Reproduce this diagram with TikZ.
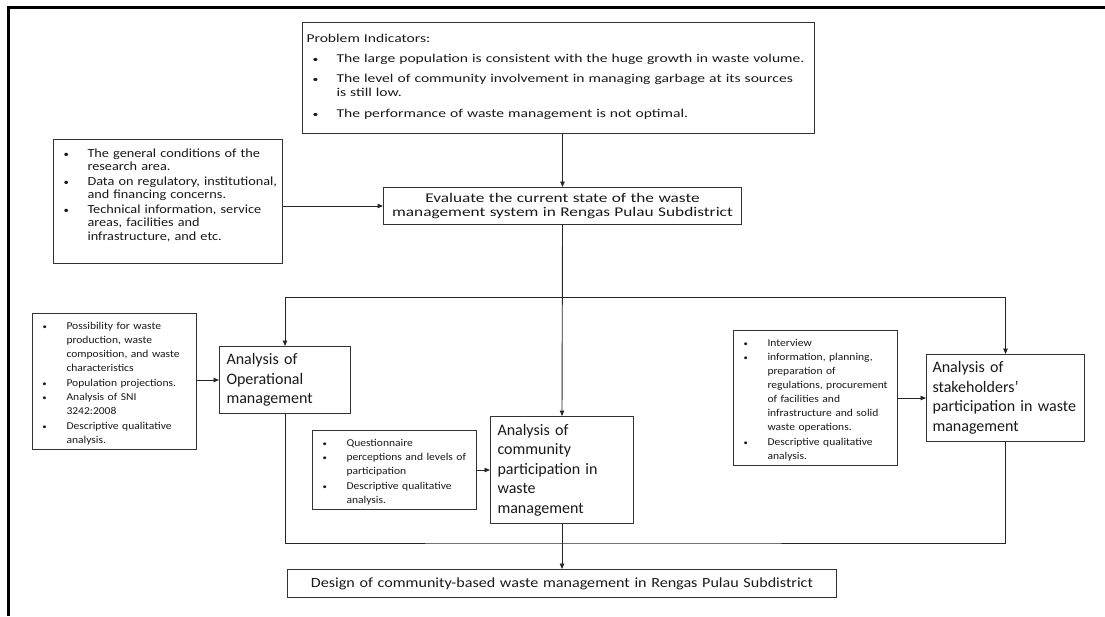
\documentclass[tikz,border=0pt]{standalone}
\usepackage{fontspec}
\setmainfont{Carlito}
\newfontfamily\widefont{Carlito}[FakeStretch=1.3]
\newfontfamily\midfont{Carlito}[FakeStretch=1.15]
\newfontfamily\smallfont{Carlito}[FakeStretch=1.1]
\usepackage{xcolor}
\usepackage{graphicx}
\usepackage{tikz}
\usetikzlibrary{arrows.meta, positioning, calc}

% punto elenco: pallino + righe non spezzabili
\newcommand{\bl}[1]{\par\noindent\makebox[30pt][l]{\hspace{6pt}\scalebox{0.75}{\textbullet}}\begin{tabular}[t]{@{}l@{}}#1\end{tabular}}

\tikzset{
    box/.style={draw=black!80, line width=1pt, text=black!90, anchor=north west,
        inner xsep=4pt, inner ysep=2pt, align=left},
    anbox/.style={box, inner xsep=7pt, font=\fontsize{16}{19.5}\selectfont},
    smallbox/.style={box, text width=156pt, font=\smallfont\fontsize{10.5}{14}\selectfont},
    conn/.style={draw=black!85, line width=0.9pt},
    arr/.style={conn, -{Triangle[length=5.5pt,width=4.5pt]}}
}

\begin{document}
\begin{tikzpicture}[x=1pt, y=-1pt]
    \useasboundingbox (0,0) rectangle (1105,616);

    % cornice
    \draw[line width=3pt] (8,616) -- (8,7) -- (1105,7);

    % Indicatori
    \node[box, text width=504pt, minimum height=111pt,
        font=\widefont\fontsize{12}{14}\selectfont\setlength{\parskip}{6pt}] (prob) at (302,22)
        {Problem Indicators:
         \bl{The large population is consistent with the huge growth in waste volume.}
         \bl{The level of community involvement in managing garbage at its sources\\is still low.}
         \bl{The performance of waste management is not optimal.}};

    % Valutazione
    \node[box, align=center, text width=350pt, minimum height=37pt,
        font=\widefont\fontsize{13.3}{14.3}\selectfont] (eval) at (383,187)
        {Evaluate the current state of the waste\\management system in Rengas Pulau Subdistrict};

    % Dati generali
    \node[box, text width=221pt, minimum height=124pt,
        font=\midfont\fontsize{12.4}{13.5}\selectfont] (info) at (53,139)
        {\bl{The general conditions of the\\research area.}
         \bl{Data on regulatory, institutional,\\and financing concerns.}
         \bl{Technical information, service\\areas, facilities and\\infrastructure, and etc.}
         \par\vspace*{15pt}};

    % Analisi operativa
    \node[anbox, text width=117pt, minimum height=67pt] (ops) at (219,346)
        {Analysis of\\Operational\\management};
    \node[smallbox, minimum height=131pt] (opsinfo) at (32,313)
        {\bl{Possibility for waste\\production, waste\\composition, and waste\\characteristics}
         \bl{Population projections.}
         \bl{Analysis of SNI\\3242:2008}
         \bl{Descriptive qualitative\\analysis.}};

    % Partecipazione comunità
    \node[anbox, text width=129pt, minimum height=107pt] (comm) at (490,416)
        {Analysis of\\community\\participation in\\waste\\management};
    \node[smallbox, minimum height=78pt] (quest) at (312,430)
        {\bl{Questionnaire}
         \bl{perceptions and levels of\\participation}
         \bl{Descriptive qualitative\\analysis.}};

    % Stakeholder
    \node[anbox, inner xsep=6pt, text width=146pt, minimum height=87pt] (stake) at (926,354)
        {Analysis of\\stakeholders'\\participation in waste\\management};
    \node[smallbox, minimum height=134pt] (intv) at (733,330)
        {\bl{Interview}
         \bl{information, planning,\\preparation of\\regulations, procurement\\of facilities and\\infrastructure and solid\\waste operations.}
         \bl{Descriptive qualitative\\analysis.}};

    % Progetto
    \node[box, align=center, text width=541pt, minimum height=28pt,
        font=\midfont\fontsize{14}{16}\selectfont] (design) at (287,569)
        {Design of community-based waste management in Rengas Pulau Subdistrict};

    % collegamenti
    \coordinate (split) at (562,297);
    \coordinate (merge) at (562,543);
    \draw[arr] (prob.south -| eval.north) -- (eval.north);
    \draw[arr] (info.east |- eval.west) -- (eval.west);
    \draw[arr] (eval.south) -- (comm.north);
    \draw[arr] (split) -| (ops.north);
    \draw[arr] (split) -| (stake.north);
    \draw[conn] (ops.south) |- (merge) -| (stake.south);
    \draw[arr] (comm.south) -- (design.north);
    \draw[arr] (opsinfo.east |- ops.west) -- (ops.west);
    \draw[arr] (quest.east |- comm.west) -- (comm.west);
    \draw[arr] (intv.east |- stake.west) -- (stake.west);
\end{tikzpicture}
\end{document}
